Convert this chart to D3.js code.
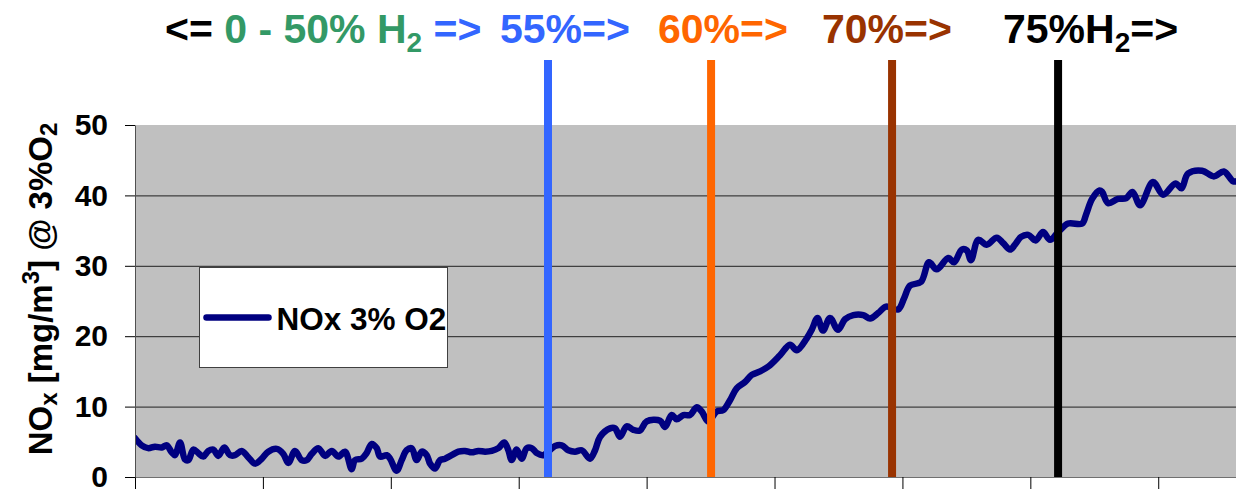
<!DOCTYPE html>
<html>
<head>
<meta charset="utf-8">
<script src="https://cdn.jsdelivr.net/npm/d3@7"></script>
<style>
  body { margin: 0; background: #fff; }
  svg { display: block; font-family: "Liberation Sans", Arial, sans-serif; font-weight: bold; }
</style>
</head>
<body>
<svg id="chart" width="1236" height="489"></svg>
<script>
// NOx readings (mg/m3 @ 3% O2) against run time
var time = [0, 0.52, 1.02, 1.56, 2.09, 2.48, 2.87, 3.13, 3.52, 3.91,
    4.17, 4.56, 4.95, 5.34, 5.73, 6.12, 6.51, 6.98, 7.43, 7.82,
    8.34, 8.86, 9.38, 9.91, 10.42, 11.08, 11.59, 11.99, 12.51, 13.03,
    13.42, 13.82, 14.33, 14.86, 15.38, 15.90, 16.42, 16.94, 17.20, 17.72,
    18.11, 18.51, 18.90, 19.16, 19.68, 19.94, 20.46, 20.85, 21.24, 21.63,
    22.02, 22.42, 22.81, 23.07, 23.46, 23.85, 24.24, 24.76, 25.28, 25.80,
    26.33, 26.84, 27.37, 27.89, 28.41, 28.87, 29.19, 29.45, 29.84, 30.23,
    30.63, 31.02, 31.41, 31.92, 32.84, 33.36, 33.88, 34.40, 34.93, 35.57,
    35.97, 36.36, 37.14, 37.53, 37.92, 38.44, 38.96, 39.48, 40.01, 41.05,
    41.44, 41.96, 42.35, 42.87, 43.39, 43.92, 44.31, 44.82, 45.48, 45.99,
    46.52, 47.04, 47.69, 48.22, 48.87, 49.52, 50.43, 51.21, 51.74, 52.52,
    52.93, 53.36, 53.79, 54.34, 54.96, 55.51, 56.16, 56.94, 57.47, 58.11,
    58.72, 59.66, 60.13, 60.60, 61.45, 62.08, 62.68, 63.59, 64.04, 64.64,
    65.03, 65.36, 65.93, 66.59, 67.37, 67.89, 68.41, 68.80, 69.27, 69.84,
    70.41, 70.99, 71.54, 72.19, 72.95, 74.05, 74.36, 74.83, 75.41, 75.61,
    76.08, 76.86, 77.48, 77.99, 78.58, 79.59, 80.38, 81.35, 81.82, 82.33,
    83.43, 84.35, 85.13, 85.85, 86.1];

var nox = [5.5, 4.5, 4.1, 4.3, 4.2, 4.5, 3.5, 3.1, 4.9, 2.5,
    2.4, 3.9, 3.4, 2.9, 3.7, 3.9, 3.0, 4.2, 3.1, 3.1,
    3.7, 2.8, 1.9, 2.6, 3.6, 4.0, 3.3, 2.0, 3.7, 2.4,
    2.4, 3.3, 4.1, 3.0, 3.7, 2.9, 3.6, 1.1, 2.4, 2.6,
    3.4, 4.7, 4.1, 2.9, 3.1, 2.6, 0.9, 2.4, 3.8, 4.1,
    2.4, 3.6, 3.1, 1.9, 1.2, 2.4, 2.6, 3.1, 3.6, 3.7,
    3.5, 3.7, 3.6, 3.7, 4.1, 4.9, 3.8, 2.4, 3.9, 2.6,
    4.1, 4.1, 3.4, 3.1, 4.4, 4.5, 3.8, 3.6, 3.8, 2.6,
    3.8, 5.7, 6.9, 6.9, 5.7, 7.2, 6.7, 6.6, 7.9, 8.0,
    7.1, 8.8, 8.2, 8.8, 8.8, 9.9, 9.3, 7.9, 9.3, 9.5,
    10.9, 12.6, 13.5, 14.5, 15.0, 15.7, 17.3, 18.8, 18.0, 19.7,
    21.0, 22.6, 20.8, 22.6, 20.9, 22.4, 23.0, 23.0, 22.5, 23.3,
    24.2, 23.8, 25.4, 27.2, 27.7, 30.5, 29.5, 31.1, 30.5, 32.3,
    32.2, 30.8, 33.7, 33.0, 34.0, 33.2, 32.3, 33.0, 34.1, 34.4,
    33.6, 34.8, 33.7, 34.8, 36.0, 36.0, 37.3, 39.5, 40.7, 40.5,
    38.9, 39.5, 39.6, 40.5, 38.6, 41.9, 40.1, 41.7, 41.0, 43.1,
    43.5, 42.7, 43.4, 42.0, 42.0];

var seriesName = "NOx 3% O2";
var yTicks = [0, 10, 20, 30, 40, 50];
var xTicks = [0, 10, 20, 30, 40, 50, 60, 70, 80];

// moments where the H2 share was stepped up
var markerTimes = [32.29, 45.04, 59.19, 72.17];
var markerColors = ["#3366ff", "#ff6600", "#993300", "#000000"];

// header pieces: [text, colour, subscript]
var headerParts = [
    [["<= ", "#000000"], ["0 - 50% H", "#339966"], ["2", "#339966", true], [" =>", "#3366ff"]],
    [["55%=>", "#3366ff"]],
    [["60%=>", "#ff6600"]],
    [["70%=>", "#993300"]],
    [["75%H", "#000000"], ["2", "#000000", true], ["=>", "#000000"]]
];

var svg = d3.select("#chart");
var plot = { left: 135, right: 1236, top: 125, bottom: 477 };

var x = d3.scaleLinear().domain([0, 86.08]).range([plot.left, plot.right]);
var y = d3.scaleLinear().domain([0, 50]).range([plot.bottom, plot.top]);

// plot background
svg.append("rect")
    .attr("x", plot.left).attr("y", plot.top)
    .attr("width", plot.right - plot.left).attr("height", plot.bottom - plot.top)
    .attr("fill", "#c0c0c0");

svg.append("clipPath").attr("id", "clip")
    .append("rect")
    .attr("x", plot.left).attr("y", plot.top)
    .attr("width", plot.right - plot.left).attr("height", plot.bottom - plot.top);

// gridlines
svg.append("g").selectAll("line")
    .data(yTicks.filter(function(d) { return d > 0 && d < 50; }))
    .enter().append("line")
    .attr("x1", plot.left).attr("x2", plot.right)
    .attr("y1", function(d) { return y(d) + 0.5; })
    .attr("y2", function(d) { return y(d) + 0.5; })
    .attr("stroke", "#202020").attr("stroke-width", 1);

// series
var points = time.map(function(t, i) { return [t, nox[i]]; });
var line = d3.line()
    .x(function(d) { return x(d[0]); })
    .y(function(d) { return y(d[1]); })
    .curve(d3.curveCatmullRom.alpha(0.5));

svg.append("path")
    .datum(points)
    .attr("clip-path", "url(#clip)")
    .attr("d", line)
    .attr("fill", "none")
    .attr("stroke", "#000080")
    .attr("stroke-width", 6.5)
    .attr("stroke-linejoin", "round")
    .attr("stroke-linecap", "round");

// H2 step markers
svg.append("g").selectAll("line")
    .data(markerTimes)
    .enter().append("line")
    .attr("x1", function(d) { return x(d); })
    .attr("x2", function(d) { return x(d); })
    .attr("y1", 60).attr("y2", plot.bottom)
    .attr("stroke", function(d, i) { return markerColors[i]; })
    .attr("stroke-width", 8);

// axes
var xAxis = svg.append("g")
    .attr("transform", "translate(0," + plot.bottom + ")")
    .call(d3.axisBottom(x).tickValues(xTicks).tickSize(12).tickSizeOuter(0).tickFormat(""));
xAxis.select(".domain").attr("stroke", "#707070");
xAxis.selectAll(".tick line").attr("stroke", "#000");

var yAxis = svg.append("g")
    .attr("transform", "translate(" + plot.left + ",0)")
    .call(d3.axisLeft(y).tickValues(yTicks).tickSize(10).tickSizeOuter(0).tickPadding(17));
yAxis.select(".domain").attr("stroke", "#505050");
yAxis.selectAll(".tick line").attr("stroke", "#000");
yAxis.selectAll(".tick text")
    .attr("fill", "#000")
    .style("font-size", "30px")
    .style("font-weight", "bold")
    .style("font-family", "'Liberation Sans', Arial, sans-serif");

// y title
var yTitle = svg.append("text")
    .attr("transform", "translate(52,289) rotate(-90)")
    .attr("text-anchor", "middle")
    .style("font-size", "33px");
yTitle.append("tspan").text("NO");
yTitle.append("tspan").attr("dy", 5).style("font-size", "24px").text("x");
yTitle.append("tspan").attr("dy", -5).text(" [mg/m");
yTitle.append("tspan").attr("dy", -13).style("font-size", "24px").text("3");
yTitle.append("tspan").attr("dy", 13).text("] @ 3%O");
yTitle.append("tspan").attr("dy", 5).style("font-size", "24px").text("2");

// legend
var legend = svg.append("g").attr("transform", "translate(199.5,267.5)");
legend.append("rect")
    .attr("width", 248).attr("height", 100)
    .attr("fill", "#fff").attr("stroke", "#404040").attr("stroke-width", 1);
legend.append("line")
    .attr("x1", 7).attr("x2", 69).attr("y1", 50).attr("y2", 50)
    .attr("stroke", "#000080").attr("stroke-width", 6.5).attr("stroke-linecap", "round");
legend.append("text")
    .attr("x", 77).attr("y", 62)
    .style("font-size", "31.5px")
    .text(seriesName);

// header
var headerX = [165, 500, 658, 822, 1003];
headerParts.forEach(function(parts, i) {
    var t = svg.append("text")
        .attr("x", headerX[i]).attr("y", 43)
        .style("font-size", "41px");
    var shifted = false;
    parts.forEach(function(p) {
        var s = t.append("tspan").attr("fill", p[1]).text(p[0]);
        if (p[2]) {
            s.attr("dy", 9).style("font-size", "28px");
            shifted = true;
        } else if (shifted) {
            s.attr("dy", -9);
            shifted = false;
        }
    });
});
</script>
</body>
</html>
